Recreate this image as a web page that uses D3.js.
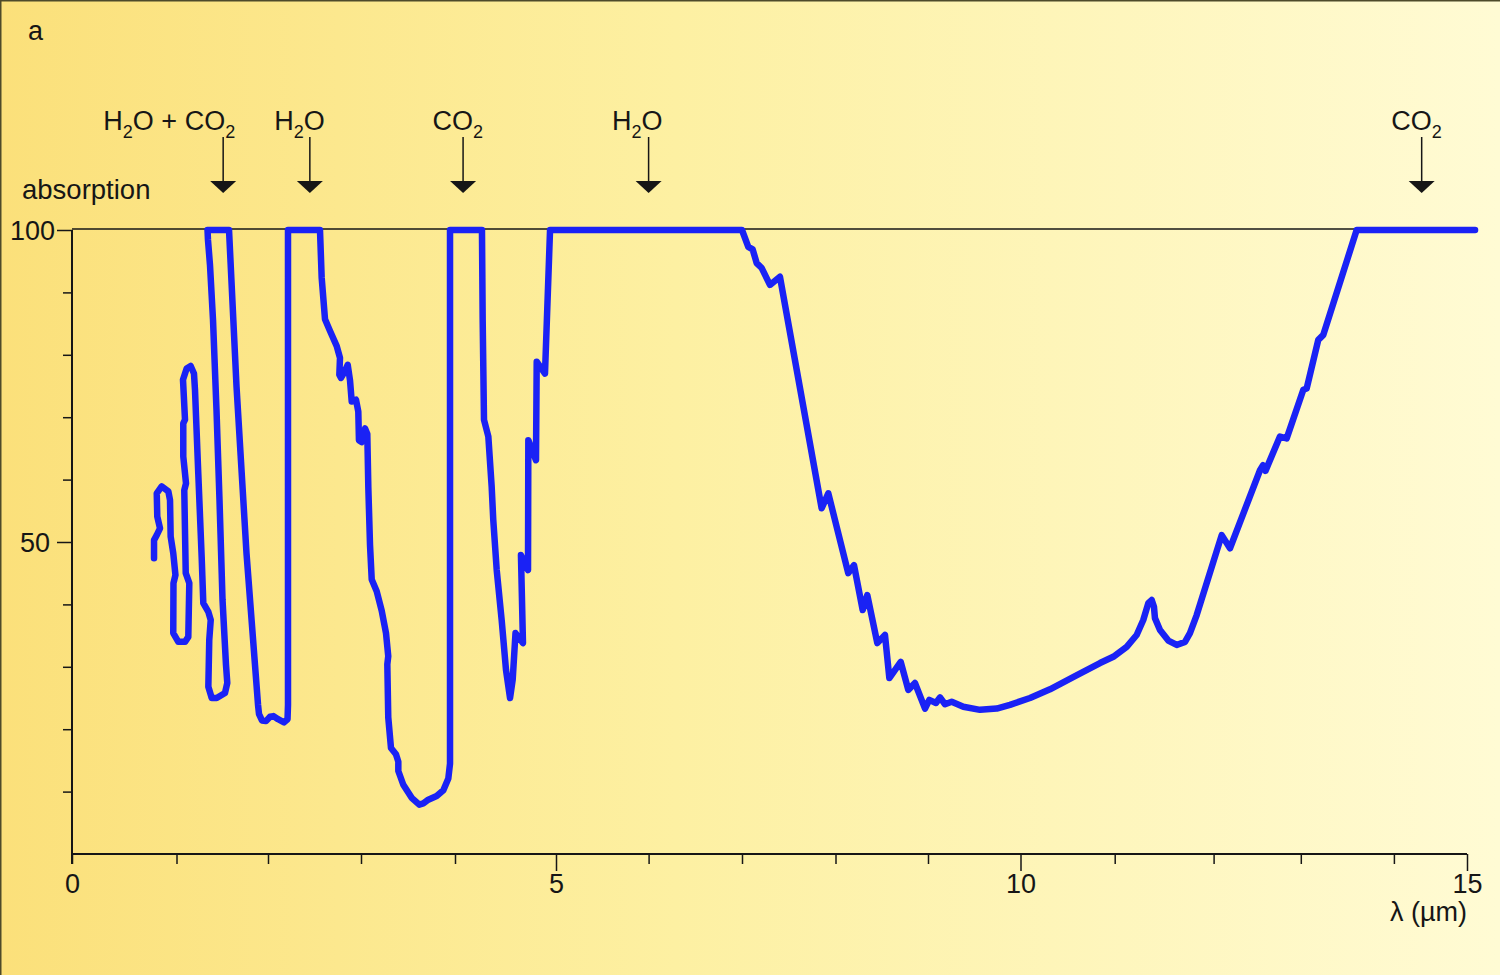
<!DOCTYPE html>
<html>
<head>
<meta charset="utf-8">
<script src="https://cdn.jsdelivr.net/npm/d3@7"></script>
<style>
html,body{margin:0;padding:0;background:#fff;}
svg{display:block;}
</style>
</head>
<body>
<svg id="chart" width="1500" height="975"></svg>
<script>
// ---------------- data (path order, the curve loops back on itself) ----------------
const wavelength = [
  0.785,0.785,0.811,0.842,0.816,0.811,0.858,0.922,0.938,0.944,0.969,0.990,0.971,0.969,
  1.020,1.093,1.129,1.140,1.101,1.085,1.104,1.074,1.074,1.093,1.071,1.111,1.155,1.191,1.202,
  1.238,1.275,1.293,1.348,1.374,1.358,1.348,1.385,1.439,1.530,1.555,1.541,1.503,1.470,1.437,
  1.399,1.366,1.344,1.339,1.574,1.656,1.765,1.891,1.902,1.934,1.978,2.022,2.059,2.108,2.172,
  2.210,2.215,2.215,2.559,2.577,2.613,2.667,2.739,2.774,2.767,2.785,2.817,2.857,2.882,2.900,
  2.946,2.971,2.978,3.007,3.043,3.067,3.078,3.096,3.114,3.167,3.220,3.266,3.290,3.280,3.290,
  3.319,3.372,3.397,3.397,3.450,3.539,3.620,3.663,3.716,3.805,3.876,3.929,3.947,3.947,
  4.267,4.274,4.287,4.330,4.363,4.379,4.413,4.462,4.505,4.545,4.571,4.599,4.673,4.653,4.723,
  4.726,4.802,4.809,4.891,4.941,7.000,7.067,7.114,7.157,7.211,7.299,7.406,7.852,7.923,
  8.138,8.200,8.294,8.344,8.452,8.535,8.582,8.705,8.787,8.859,8.968,9.014,9.086,9.130,9.184,
  9.256,9.382,9.562,9.743,9.886,10.101,10.313,10.579,10.844,10.985,11.121,11.222,11.289,
  11.340,11.374,11.397,11.407,11.458,11.542,11.627,11.711,11.761,11.829,12.093,12.188,12.532,
  12.567,12.595,12.761,12.838,13.027,13.063,13.188,13.242,13.600,15.11
];
const absorption = [
  47.4,50.3,51.1,52.2,54.1,57.8,58.9,58.1,56.7,50.9,48.2,44.7,43.4,35.4,
  34.0,34.0,34.8,43.4,45.0,58.3,59.4,63.7,69.0,69.6,76.0,77.8,78.2,77.0,74.4,
  61.0,47.6,40.2,38.8,37.5,34.3,26.8,25.0,25.0,25.8,27.4,30.3,40.7,56.7,71.2,
  85.6,94.4,98.4,100,100,74.9,48.2,23.9,22.4,21.4,21.3,22.0,22.1,21.6,21.1,
  21.6,23.9,100,100,92.4,85.7,83.8,81.4,79.5,76.8,76.3,77.1,78.4,75.9,72.5,
  72.8,70.9,66.3,66.0,68.2,67.3,58.7,49.5,44.0,42.1,39.0,35.4,31.7,30.4,21.9,
  17.0,16.0,14.8,13.3,11.1,9.0,7.9,8.1,8.7,9.3,10.2,12.1,14.5,100,
  100,85.6,69.6,66.9,58.9,53.5,45.5,37.5,29.5,25.0,27.9,35.4,33.8,47.9,45.5,
  66.3,63.1,78.9,77.0,100,100,97.3,96.9,94.7,93.9,91.2,92.5,55.4,57.8,
  45.0,46.3,39.1,41.5,33.8,35.1,28.2,30.8,26.3,27.4,23.3,24.7,24.2,25.1,24.0,
  24.4,23.6,23.1,23.3,23.9,25.0,26.4,28.5,30.6,31.6,33.2,35.1,37.5,
  40.2,40.7,39.6,37.8,35.9,34.2,33.5,34.0,35.4,38.3,51.1,49.0,61.5,
  62.3,61.4,66.9,66.6,74.4,74.6,82.4,83.2,100,100
];

const xTickValues = d3.range(0, 16);          // µm
const xTickLabels = [0, 5, 10, 15];
const yTickValues = d3.range(10, 101, 10);    // %
const yTickLabels = [50, 100];

const bandWavelengths = [1.51, 2.45, 4.08, 6.0, 14.38];
const bandLabels = [
  [["H",0],["2",1],["O + CO",0],["2",1]],
  [["H",0],["2",1],["O",0]],
  [["CO",0],["2",1]],
  [["H",0],["2",1],["O",0]],
  [["CO",0],["2",1]]
];

// ---------------- layout ----------------
const W = 1500, H = 975;
// pixel calibration of the (hand drawn, slightly irregular) wavelength axis, one per µm tick
const AXIS_PX = [72,176.5,268,361,455,556,648.6,742,835.5,928,1020.5,1114.7,1213.6,1300.8,1393.9,1467];
const LABEL_DX = [12, 15, 20, 14, 20];   // label end relative to its arrow
const FONT = "'Liberation Sans', Arial, Helvetica, sans-serif";
const INK = "#161616";
const FS = 27;

const svg = d3.select("#chart");

// background gradient
const defs = svg.append("defs");
const grad = defs.append("linearGradient").attr("id","bg").attr("x1","0").attr("x2","1").attr("y1","0").attr("y2","0");
[[0,"#fbe07a"],[0.45,"#fdf0a2"],[1,"#fffbd4"]].forEach(([o,c]) =>
  grad.append("stop").attr("offset", o).attr("stop-color", c));
svg.append("rect").attr("width", W).attr("height", H).attr("fill", "url(#bg)");
svg.append("path").attr("d", `M0.75,${H} V0.75 H${W}`).attr("fill","none")
  .attr("stroke","#4d4a2a").attr("stroke-width",1.5);

const x = d3.scaleLinear().domain(xTickValues).range(AXIS_PX);
const y = d3.scaleLinear().domain([0, 100]).range([854, 230]);

// ---------------- x axis ----------------
const gx = svg.append("g").attr("transform", `translate(0,${y(0)})`)
  .call(d3.axisBottom(x).tickValues(xTickValues).tickSize(10).tickSizeOuter(0)
    .tickFormat(d => xTickLabels.includes(d) ? d : ""));
gx.select(".domain").remove();
gx.selectAll(".tick line").attr("stroke", INK).attr("stroke-width", 1.5)
  .attr("y2", d => (xTickLabels.includes(d) && d > 0) ? 17 : 10);
gx.selectAll(".tick text").attr("fill", INK).attr("font-family", FONT).attr("font-size", FS)
  .attr("y", 20).attr("dy", "0.71em");
svg.append("line").attr("x1", x(0)).attr("x2", x(15)).attr("y1", y(0)).attr("y2", y(0))
  .attr("stroke", INK).attr("stroke-width", 2);

// ---------------- y axis ----------------
const gy = svg.append("g").attr("transform", `translate(${x(0)},0)`)
  .call(d3.axisLeft(y).tickValues(yTickValues).tickSize(9).tickSizeOuter(0)
    .tickFormat(d => yTickLabels.includes(d) ? d : ""));
gy.select(".domain").remove();
gy.selectAll(".tick line").attr("stroke", INK).attr("stroke-width", 1.5)
  .attr("x2", d => yTickLabels.includes(d) ? -15 : -9);
gy.selectAll(".tick text").attr("fill", INK).attr("font-family", FONT).attr("font-size", FS)
  .attr("x", d => d === 100 ? -17 : -22).attr("dy", "0.36em");
svg.append("line").attr("x1", x(0)).attr("x2", x(0)).attr("y1", y(100)).attr("y2", y(0) + 10)
  .attr("stroke", INK).attr("stroke-width", 2);
// 100 % reference line across the plot
svg.append("line").attr("x1", x(0)).attr("x2", x(15)).attr("y1", y(100) - 1).attr("y2", y(100) - 1)
  .attr("stroke", INK).attr("stroke-width", 1.5);

// ---------------- texts ----------------
svg.append("text").attr("x", 28).attr("y", 40).attr("font-family", FONT).attr("font-size", FS)
  .attr("fill", INK).text("a");
svg.append("text").attr("x", 22).attr("y", 199).attr("font-family", FONT).attr("font-size", 27.5)
  .attr("fill", INK).text("absorption");
svg.append("text").attr("x", x(15)).attr("y", 921).attr("text-anchor", "end")
  .attr("font-family", FONT).attr("font-size", FS).attr("fill", INK).text("λ (µm)");

// ---------------- band annotations ----------------
bandWavelengths.forEach((w, i) => {
  const ax = x(w);
  const t = svg.append("text").attr("x", ax + LABEL_DX[i]).attr("y", 130).attr("text-anchor", "end")
    .attr("font-family", FONT).attr("font-size", FS).attr("fill", INK);
  let shifted = false;
  bandLabels[i].forEach(([s, sub]) => {
    const ts = t.append("tspan").text(s);
    if (sub) { ts.attr("font-size", 18).attr("dy", 8); shifted = true; }
    else if (shifted) { ts.attr("dy", -8); shifted = false; }
  });
  svg.append("line").attr("x1", ax).attr("x2", ax).attr("y1", 137).attr("y2", 182)
    .attr("stroke", INK).attr("stroke-width", 1.5);
  svg.append("path").attr("d", `M${ax - 13},181 L${ax + 13},181 L${ax},193 Z`).attr("fill", INK);
});

// ---------------- curve ----------------
const pts = wavelength.map((w, i) => [w, absorption[i]]);
svg.append("path").datum(pts)
  .attr("d", d3.line().x(d => x(d[0])).y(d => y(d[1])))
  .attr("fill", "none").attr("stroke", "#1a22f5").attr("stroke-width", 6.5)
  .attr("stroke-linejoin", "round").attr("stroke-linecap", "round");
</script>
</body>
</html>
